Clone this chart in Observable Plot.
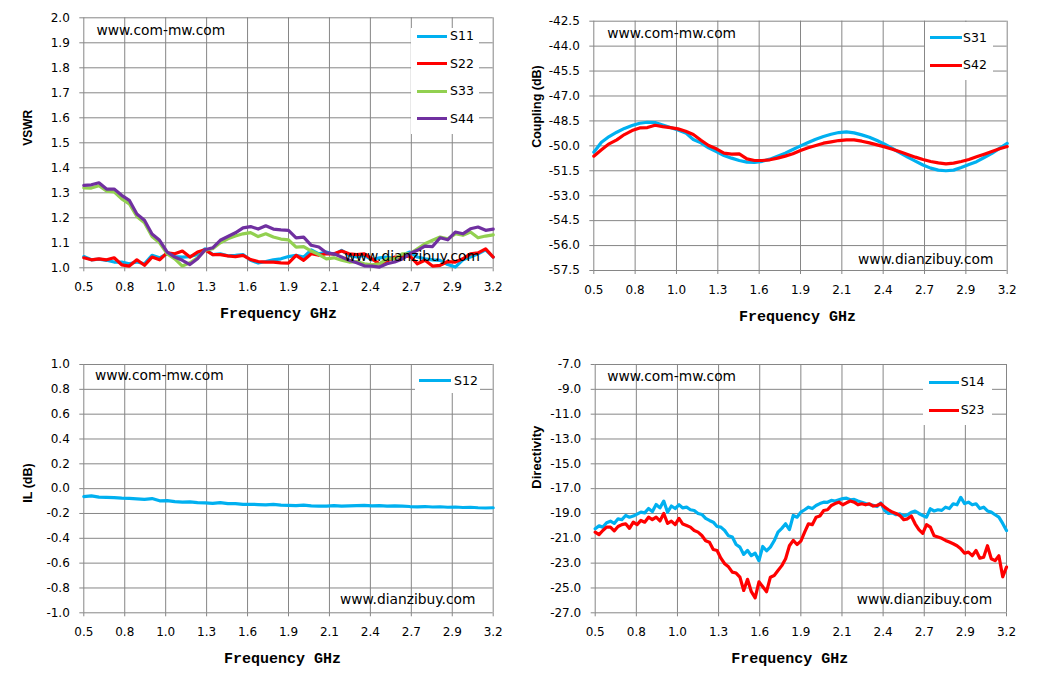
<!DOCTYPE html>
<html><head><meta charset="utf-8">
<script src="https://cdn.jsdelivr.net/npm/d3@7"></script>
<script src="https://cdn.jsdelivr.net/npm/@observablehq/plot@0.6"></script>
<style>
body{margin:0;background:#fff;}
#wrap{position:relative;width:1048px;height:682px;overflow:hidden;background:#fff;font-family:"DejaVu Sans",sans-serif;}
.panel{position:absolute;width:524px;height:341px;}
.panel svg{display:block;}
.wm{position:absolute;font-size:13.8px;color:#000;white-space:nowrap;line-height:16px;height:16px;margin-top:-8px;}
.legend{position:absolute;background:#fff;}
.sw{position:absolute;height:3px;margin-top:-1.5px;}
.lab{position:absolute;font-size:12.5px;line-height:14px;height:14px;margin-top:-7px;color:#000;white-space:nowrap;}
</style>
</head><body><div id="wrap"></div>
<script>
// ---------- data ----------
const xTicks = [0.5, 0.77, 1.04, 1.31, 1.58, 1.85, 2.12, 2.39, 2.66, 2.93, 3.2];
const xTickLabels = ["0.5","0.8","1.0","1.3","1.6","1.9","2.1","2.4","2.7","2.9","3.2"];

const vswrTicks = [1.0,1.1,1.2,1.3,1.4,1.5,1.6,1.7,1.8,1.9,2.0];
const couplingTicks = [-57.5,-56,-54.5,-53,-51.5,-50,-48.5,-47,-45.5,-44,-42.5];
const ilTicks = [-1,-0.8,-0.6,-0.4,-0.2,0,0.2,0.4,0.6,0.8,1];
const dirTicks = [-27,-25,-23,-21,-19,-17,-15,-13,-11,-9,-7];

// sampling grids (GHz)
const freq = d3.range(55).map(i => Math.round((0.5 + i * 0.05) * 1000) / 1000);
const freqFine = d3.range(109).map(i => Math.round((0.5 + i * 0.025) * 1000) / 1000);

const vswrS11 = [1.045,1.032,1.035,1.03,1.023,1.023,1.016,1.023,1.016,1.05,1.04,1.056,1.045,1.043,1.045,1.053,1.076,1.053,1.056,1.048,1.05,1.053,1.03,1.019,1.025,1.032,1.036,1.045,1.05,1.043,1.072,1.056,1.063,1.053,1.07,1.05,1.043,1.05,1.032,1.04,1.043,1.036,1.05,1.063,1.043,1.036,1.032,1.03,1.013,1.003,1.032,1.043,1.056,1.072,1.043];
const vswrS22 = [1.04,1.032,1.036,1.032,1.04,1.012,1.007,1.032,1.01,1.043,1.032,1.06,1.056,1.067,1.043,1.063,1.072,1.053,1.053,1.048,1.045,1.05,1.033,1.025,1.023,1.023,1.02,1.019,1.05,1.03,1.056,1.05,1.056,1.056,1.067,1.056,1.053,1.056,1.036,1.016,1.027,1.043,1.043,1.048,1.016,1.03,1.007,1.01,1.025,1.023,1.036,1.056,1.06,1.076,1.043];
const vswrS33 = [1.32,1.319,1.328,1.307,1.304,1.276,1.256,1.205,1.18,1.125,1.1,1.056,1.036,1.007,1.02,1.04,1.07,1.076,1.1,1.116,1.127,1.136,1.141,1.125,1.136,1.123,1.115,1.112,1.083,1.085,1.067,1.053,1.036,1.04,1.03,1.023,1.025,1.016,1.012,1.016,1.036,1.036,1.056,1.056,1.076,1.096,1.11,1.123,1.116,1.136,1.13,1.143,1.12,1.127,1.132];
const vswrS44 = [1.33,1.332,1.34,1.315,1.315,1.29,1.27,1.215,1.19,1.135,1.11,1.063,1.043,1.03,1.013,1.036,1.072,1.08,1.11,1.125,1.14,1.16,1.165,1.155,1.168,1.155,1.152,1.15,1.12,1.123,1.09,1.083,1.06,1.056,1.043,1.03,1.02,1.008,1.007,1.003,1.016,1.023,1.035,1.056,1.07,1.087,1.085,1.12,1.112,1.143,1.136,1.156,1.163,1.15,1.155];

const couplingS31 = [-50.38,-49.78,-49.44,-49.18,-48.95,-48.78,-48.64,-48.58,-48.6,-48.74,-48.9,-49.04,-49.22,-49.62,-49.82,-50.12,-50.35,-50.58,-50.74,-50.88,-50.98,-51.0,-50.93,-50.8,-50.62,-50.44,-50.22,-50.0,-49.8,-49.6,-49.44,-49.3,-49.2,-49.16,-49.22,-49.34,-49.48,-49.68,-49.9,-50.16,-50.42,-50.68,-50.92,-51.15,-51.34,-51.46,-51.5,-51.46,-51.3,-51.12,-50.95,-50.7,-50.45,-50.15,-49.85];
const couplingS42 = [-50.62,-50.24,-49.88,-49.64,-49.32,-49.08,-48.92,-48.9,-48.76,-48.84,-48.9,-48.98,-49.12,-49.32,-49.66,-49.98,-50.18,-50.44,-50.5,-50.48,-50.78,-50.88,-50.88,-50.84,-50.74,-50.62,-50.48,-50.28,-50.12,-49.98,-49.84,-49.76,-49.68,-49.64,-49.64,-49.72,-49.82,-49.94,-50.06,-50.2,-50.36,-50.52,-50.68,-50.82,-50.94,-51.02,-51.08,-51.04,-50.94,-50.82,-50.66,-50.5,-50.34,-50.18,-50.04];

const ilS12 = [-0.064,-0.058,-0.068,-0.07,-0.072,-0.076,-0.078,-0.082,-0.086,-0.08,-0.098,-0.096,-0.104,-0.108,-0.106,-0.112,-0.114,-0.118,-0.112,-0.12,-0.12,-0.126,-0.126,-0.128,-0.13,-0.126,-0.132,-0.134,-0.136,-0.132,-0.138,-0.14,-0.14,-0.136,-0.14,-0.138,-0.136,-0.134,-0.138,-0.136,-0.14,-0.138,-0.14,-0.144,-0.146,-0.144,-0.148,-0.146,-0.15,-0.148,-0.152,-0.15,-0.154,-0.156,-0.154];

const dirS14 = [-20.23,-20.0,-20.1,-19.75,-19.62,-19.8,-19.43,-19.5,-19.16,-19.3,-19.21,-19.05,-18.89,-18.95,-18.6,-18.85,-18.28,-18.55,-18.0,-18.9,-18.4,-18.6,-18.3,-18.55,-18.49,-18.7,-18.76,-19.0,-19.08,-19.4,-19.56,-19.7,-20.05,-20.1,-20.37,-20.8,-20.9,-21.5,-21.71,-22.3,-21.98,-22.4,-22.2,-22.8,-21.66,-22.0,-21.71,-21.2,-20.5,-20.2,-19.83,-20.3,-19.16,-19.3,-18.89,-18.7,-18.49,-18.6,-18.36,-18.2,-18.09,-18.1,-17.95,-18.0,-17.9,-17.8,-17.77,-17.9,-17.87,-18.0,-18.09,-18.2,-18.28,-18.35,-18.44,-18.15,-18.76,-19.0,-18.95,-19.1,-19.03,-19.2,-19.11,-18.9,-18.81,-19.0,-19.16,-19.3,-18.62,-18.8,-18.7,-18.75,-18.49,-18.6,-18.22,-18.3,-17.7,-18.2,-18.09,-18.3,-18.22,-18.6,-18.49,-18.8,-18.89,-19.1,-19.3,-19.8,-20.37];
const dirS23 = [-20.5,-20.7,-20.37,-20.1,-20.1,-20.4,-20.05,-19.9,-19.83,-20.2,-19.7,-19.9,-19.56,-19.7,-19.3,-19.5,-19.3,-19.6,-19.0,-19.8,-19.62,-19.9,-19.4,-19.85,-19.97,-20.1,-20.37,-20.5,-20.77,-21.2,-21.31,-21.9,-21.98,-22.6,-23.05,-23.3,-23.72,-23.8,-24.13,-25.2,-24.3,-25.3,-25.8,-24.5,-24.9,-25.3,-24.13,-24.0,-23.59,-23.2,-22.65,-21.6,-21.17,-21.5,-21.23,-20.5,-19.83,-19.9,-19.3,-19.2,-18.76,-18.7,-18.36,-18.2,-18.09,-18.3,-18.14,-18.0,-18.09,-18.3,-18.22,-18.3,-18.22,-18.4,-18.36,-18.2,-18.49,-18.7,-18.89,-19.0,-19.16,-19.5,-19.43,-19.2,-19.83,-20.3,-20.6,-19.9,-20.1,-20.8,-20.9,-21.0,-21.17,-21.3,-21.44,-21.6,-21.85,-22.2,-22.11,-22.4,-21.98,-22.6,-22.52,-21.6,-22.65,-22.8,-22.4,-24.1,-23.32];

// ---------- styling / layout ----------
const BLUE = "#00B0F0", RED = "#FF0000", GREEN = "#92D050", PURPLE = "#7030A0";
const GRID = "#868686";

const panels = [
  {left:0, top:0, m:[17.3,31.3,73.7,83.3], domain:[1,2], ticks:vswrTicks, title:"VSWR", tdx:-56, tdy:3, tsize:12, xdx:-10,
   series:[{x:freq,y:vswrS11,c:BLUE,n:"S11"},{x:freq,y:vswrS22,c:RED,n:"S22"},{x:freq,y:vswrS33,c:GREEN,n:"S33"},{x:freq,y:vswrS44,c:PURPLE,n:"S44"}],
   legend:{l:410.5,t:27.5,w:68.5,h:106,ys:[36,63.5,91,118.5],sx:416.7,sw:30,lx:450},
   wm1:[96.5,30], wm2:[344.5,256]},
  {left:524, top:0, m:[20.7,41.3,71,69.3], domain:[-57.5,-42.5], ticks:couplingTicks, title:"Coupling (dB)", tdx:-57, tdy:2, tsize:12.5, xdx:-3,
   series:[{x:freq,y:couplingS31,c:BLUE,n:"S31"},{x:freq,y:couplingS42,c:RED,n:"S42"}],
   legend:{l:925,t:21.7,w:68,h:58.5,ys:[37.7,65.3],sx:930,sw:31.5,lx:963},
   wm1:[607.3,33.3], wm2:[858,259]},
  {left:0, top:341, m:[23,31.3,69.7,83.3], domain:[-1,1], ticks:ilTicks, title:"IL (dB)", tdx:-56, tdy:14, tsize:12.5, xdx:-6,
   series:[{x:freq,y:ilS12,c:BLUE,n:"S12"}],
   legend:{l:415,t:365,w:65,h:28,ys:[380.7],sx:419,sw:32,lx:454},
   wm1:[95,375.3], wm2:[340,599]},
  {left:524, top:341, m:[23,42,69.7,70.7], domain:[-27,-7], ticks:dirTicks, title:"Directivity", tdx:-58, tdy:0, tsize:13, xdx:-11,
   series:[{x:freqFine,y:dirS14,c:BLUE,n:"S14"},{x:freqFine,y:dirS23,c:RED,n:"S23"}],
   legend:{l:923.3,t:365,w:68.5,h:60,ys:[382.3,410],sx:929.3,sw:30,lx:960.7},
   wm1:[607.3,376], wm2:[856.7,599.3]}
];

const wrap = document.getElementById("wrap");
const xFmt = d => xTickLabels[xTicks.findIndex(t => Math.abs(t - d) < 1e-9)];

for (const p of panels) {
  const [mt, mr, mb, ml] = p.m;
  const marks = [
    Plot.gridX(xTicks, {stroke: GRID, strokeOpacity: 1, strokeWidth: 1}),
    Plot.gridY(p.ticks, {stroke: GRID, strokeOpacity: 1, strokeWidth: 1}),
    Plot.axisX(xTicks, {tickSize: 4, tickPadding: 11, stroke: GRID, strokeOpacity: 1, tickFormat: xFmt, label: null, fontSize: 12}),
    Plot.axisY(p.ticks, {tickSize: 4, tickPadding: 10, stroke: GRID, strokeOpacity: 1, tickFormat: d => d.toFixed(1), label: null, fontSize: 12}),
  ];
  for (const s of p.series) {
    const data = s.x.map((f, i) => ({f, v: s.y[i]}));
    marks.push(Plot.line(data, {x: "f", y: "v", stroke: s.c, strokeWidth: 3.2, strokeLinejoin: "round", strokeLinecap: "round"}));
  }
  marks.push(Plot.text([p.title], {frameAnchor: "left", dx: p.tdx, dy: p.tdy, rotate: -90, fontWeight: "bold", fontFamily: "Liberation Sans", fontSize: p.tsize, fill: "#000"}));
  marks.push(Plot.text(["Frequency GHz"], {frameAnchor: "bottom", dx: p.xdx, dy: 50, fontWeight: "bold", fontFamily: "Liberation Mono", fontSize: 15, fill: "#000"}));

  const svg = Plot.plot({
    width: 524, height: 341,
    marginTop: mt, marginRight: mr, marginBottom: mb, marginLeft: ml,
    style: {fontFamily: "DejaVu Sans", fontSize: "12px", color: "#000", background: "transparent", overflow: "visible"},
    x: {type: "linear", domain: [0.5, 3.2]},
    y: {type: "linear", domain: p.domain},
    marks
  });
  const div = document.createElement("div");
  div.className = "panel";
  div.style.left = p.left + "px";
  div.style.top = p.top + "px";
  div.appendChild(svg);
  wrap.appendChild(div);

  // legend (inside plot area, white box)
  const L = p.legend;
  const box = document.createElement("div");
  box.className = "legend";
  Object.assign(box.style, {left: L.l + "px", top: L.t + "px", width: L.w + "px", height: L.h + "px"});
  wrap.appendChild(box);
  p.series.forEach((s, i) => {
    const sw = document.createElement("div");
    sw.className = "sw";
    Object.assign(sw.style, {left: L.sx + "px", top: L.ys[i] + "px", width: L.sw + "px", background: s.c});
    wrap.appendChild(sw);
    const lab = document.createElement("div");
    lab.className = "lab";
    Object.assign(lab.style, {left: L.lx + "px", top: L.ys[i] + "px"});
    lab.textContent = s.n;
    wrap.appendChild(lab);
  });

  // watermarks
  for (const [txt, pos] of [["www.com-mw.com", p.wm1], ["www.dianzibuy.com", p.wm2]]) {
    const w = document.createElement("div");
    w.className = "wm";
    w.style.left = pos[0] + "px";
    w.style.top = pos[1] + "px";
    w.textContent = txt;
    wrap.appendChild(w);
  }
}
</script>
</body></html>
